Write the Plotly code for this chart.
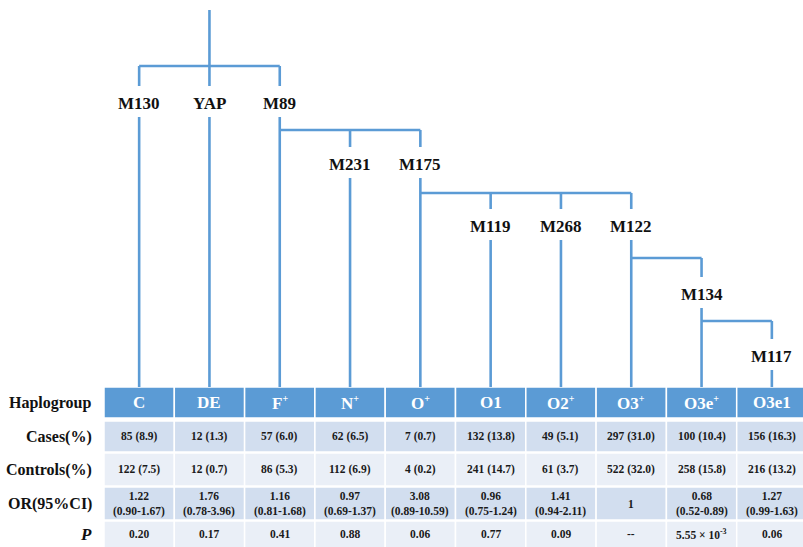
import plotly.graph_objects as go

# ---------------- data ----------------
SUP = "<sup><span style='font-size:10px'>+</span></sup>"
haplogroups = ["C", "DE", "F" + SUP, "N" + SUP, "O" + SUP, "O1",
               "O2" + SUP, "O3" + SUP, "O3e" + SUP, "O3e1"]
cases = ["85 (8.9)", "12 (1.3)", "57 (6.0)", "62 (6.5)", "7 (0.7)", "132 (13.8)",
         "49 (5.1)", "297 (31.0)", "100 (10.4)", "156 (16.3)"]
controls = ["122 (7.5)", "12 (0.7)", "86 (5.3)", "112 (6.9)", "4 (0.2)", "241 (14.7)",
            "61 (3.7)", "522 (32.0)", "258 (15.8)", "216 (13.2)"]
odds_ratio = ["1.22", "1.76", "1.16", "0.97", "3.08", "0.96", "1.41", "1", "0.68", "1.27"]
ci95 = ["(0.90-1.67)", "(0.78-3.96)", "(0.81-1.68)", "(0.69-1.37)", "(0.89-10.59)",
        "(0.75-1.24)", "(0.94-2.11)", "", "(0.52-0.89)", "(0.99-1.63)"]
p_values = ["0.20", "0.17", "0.41", "0.88", "0.06", "0.77", "0.09", "--",
            "5.55 × 10<sup>-3</sup>", "0.06"]
row_labels = ["Haplogroup", "Cases(%)", "Controls(%)", "OR(95%CI)", "<i>P</i>"]

# tree: marker above each haplogroup column, and its depth in the tree
markers = ["M130", "YAP", "M89", "M231", "M175", "M119", "M268", "M122", "M134", "M117"]
marker_level = [0, 0, 0, 1, 1, 2, 2, 2, 3, 4]
# horizontal bars: (level, first column, last column)
bars = [(0, 0, 2), (1, 2, 4), (2, 4, 7), (3, 7, 8), (4, 8, 9)]
root_col = 1

# ---------------- layout geometry ----------------
W, H = 803, 547
X0, CW = 104, 70.3
bar_y = [66, 130, 193, 258, 321]
label_y = [103, 164, 226, 294, 356]
root_top = 10
table_top = 387
rows = [(387, 418), (421, 452), (453, 486), (487, 520), (521, 550)]
row_fill = ["#5B9BD5", "#D2DEEF", "#EAEFF7", "#D2DEEF", "#EAEFF7"]
blue = "#5B9BD5"
serif = "Liberation Serif, Times New Roman, serif"

def cx(i):
    return X0 + (i + 0.5) * CW

fig = go.Figure()

# tree lines
xs, ys = [], []
xs += [cx(root_col), cx(root_col), None]
ys += [root_top, bar_y[0], None]
for lvl, a, b in bars:
    xs += [cx(a), cx(b), None]
    ys += [bar_y[lvl], bar_y[lvl], None]
for i, lvl in enumerate(marker_level):
    xs += [cx(i), cx(i), None, cx(i), cx(i), None]
    ys += [bar_y[lvl], label_y[lvl] - 17, None, label_y[lvl] + 14, table_top, None]
fig.add_trace(go.Scatter(x=xs, y=ys, mode="lines", line=dict(color=blue, width=2.6),
                         hoverinfo="skip", showlegend=False))

# marker labels
for i, m in enumerate(markers):
    fig.add_annotation(x=cx(i), y=label_y[marker_level[i]], text="<b>%s</b>" % m,
                       showarrow=False, font=dict(family=serif, size=17, color="#111"),
                       xanchor="center", yanchor="middle")

# table cells
shapes = []
for r, (y0, y1) in enumerate(rows):
    for i in range(len(haplogroups)):
        shapes.append(dict(type="rect", x0=X0 + i * CW, x1=X0 + (i + 1) * CW, y0=y0, y1=y1,
                           fillcolor=row_fill[r], line=dict(color="white", width=1.5),
                           layer="below"))
fig.update_layout(shapes=shapes)

row_text = [haplogroups, cases, controls,
            [o + ("<br>" + c if c else "") for o, c in zip(odds_ratio, ci95)], p_values]
for r, (y0, y1) in enumerate(rows):
    yc = (y0 + min(y1, 547)) / 2
    for i, t in enumerate(row_text[r]):
        if r == 0:
            font = dict(family=serif, size=17, color="white")
        else:
            font = dict(family=serif, size=11.5, color="#1a1a1a")
        fig.add_annotation(x=cx(i), y=yc, text="<b>%s</b>" % t, showarrow=False,
                           font=font, xanchor="center", yanchor="middle")
    fig.add_annotation(x=94, y=yc, text="<b>%s</b>" % row_labels[r], showarrow=False,
                       font=dict(family=serif, size=16 if r < 4 else 17, color="#111"),
                       xanchor="right", yanchor="middle")

fig.update_layout(width=W, height=H, margin=dict(l=0, r=0, t=0, b=0),
                  paper_bgcolor="white", plot_bgcolor="white",
                  xaxis=dict(range=[0, W], visible=False, fixedrange=True),
                  yaxis=dict(range=[H, 0], visible=False, fixedrange=True))

fig.write_html("out.html", config={"displayModeBar": False},
               post_script="document.body.style.margin='0';")
